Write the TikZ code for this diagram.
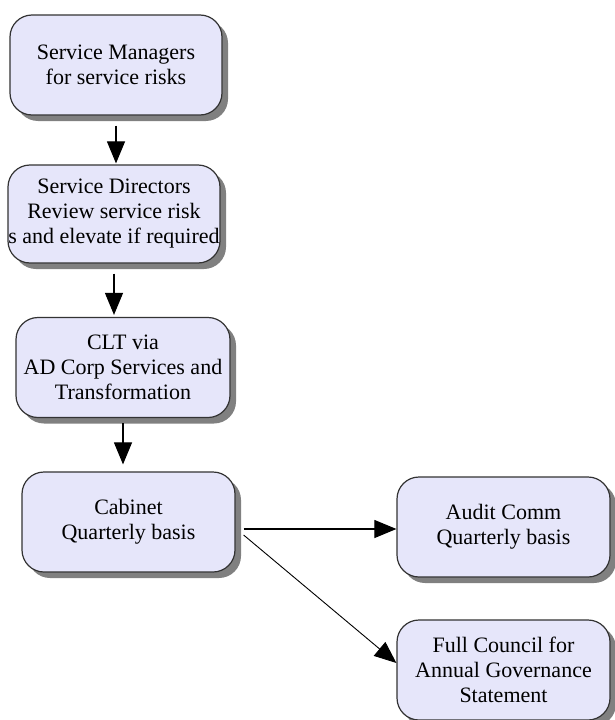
\documentclass[tikz,border=0pt]{standalone}
\usepackage{fontspec}
\setmainfont{Liberation Serif}
\newfontfamily\boxfont{Liberation Serif}
\usetikzlibrary{arrows.meta,shadows}
\definecolor{boxfill}{RGB}{230,230,250}
\begin{document}
\begin{tikzpicture}[x=1pt,y=-1pt, line join=round,>={Triangle[length=22pt,width=18pt]},
	box/.style={draw=black!80, line width=1.2pt, fill=boxfill, rounded corners=22pt,
		minimum width=212pt, minimum height=100pt, inner sep=0pt, align=center,
		font=\boxfont\fontsize{22}{25}\selectfont,
		drop shadow={shadow xshift=6pt, shadow yshift=-6pt, fill=black!50, opacity=1}},
	link/.style={->, line width=1.1pt}]
	\useasboundingbox (0,0) rectangle (614,720);
	\node[box] (m1) at (116,65) {Service Managers\\for service risks};
	\node[box, minimum height=98pt] (m2) at (114,214) {Service Directors\\Review service risk\\s and elevate if required};
	\node[box, minimum width=214pt] (m3) at (123,367.5) {CLT via\\AD Corp Services and\\Transformation};
	\node[box, minimum width=213pt] (m4) at (128.5,522) {Cabinet\\Quarterly basis};
	\node[box, minimum width=213pt] (m5) at (503.5,527) {Audit Comm\\Quarterly basis};
	\node[box, minimum width=213pt] (m6) at (503.5,670) {Full Council for\\Annual Governance\\Statement};
	\foreach \a/\b/\s/\t in {m1/m2/10pt/1pt,m2/m3/10pt/2pt,m3/m4/5pt/7pt}
		\draw[link, shorten <=\s, shorten >=\t] (\a.south) -- (\a.south |- \b.north);
	\draw[link, shorten <=8pt] ([yshift=-2pt]m4.east |- m5.west) -- ([yshift=-2pt]m5.west);
	\draw[link, line width=.9pt] ([shift={(8pt,-13pt)}]m4.east) -- ([yshift=7pt]m6.west);
\end{tikzpicture}
\end{document}
